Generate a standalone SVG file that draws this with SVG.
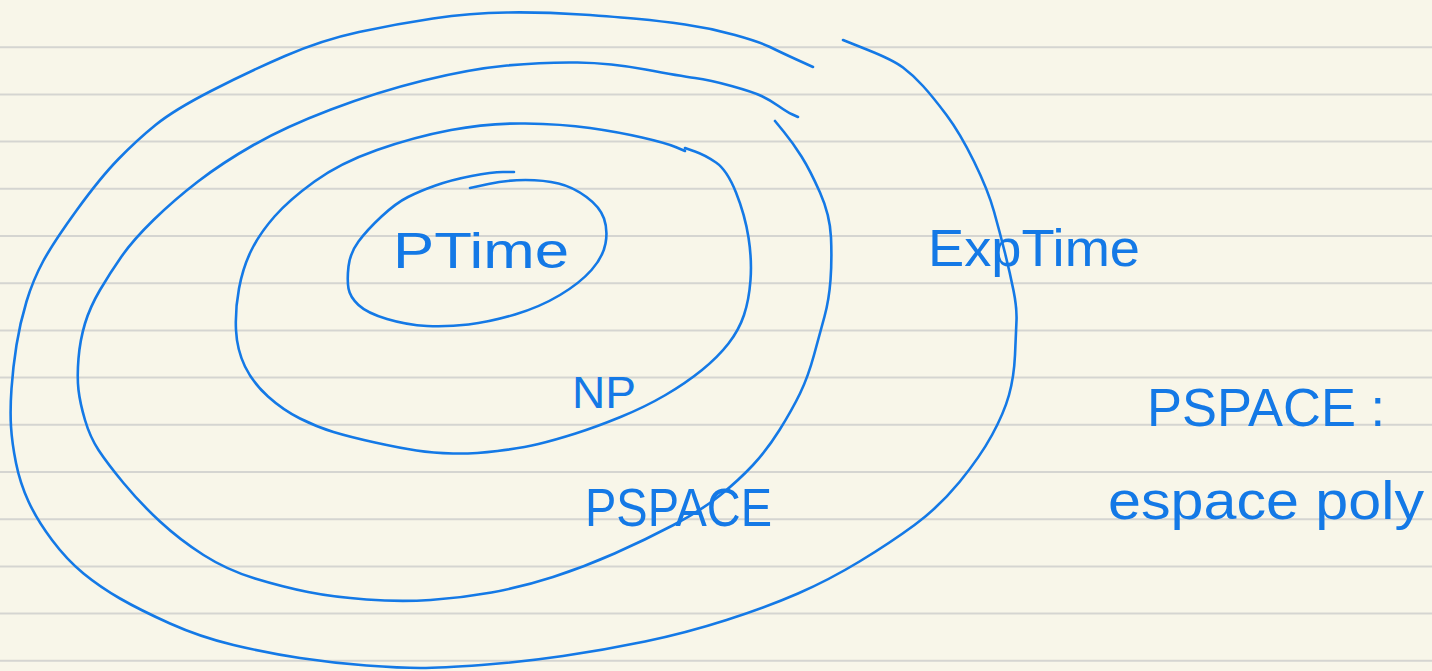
<svg xmlns="http://www.w3.org/2000/svg" width="1432" height="671" viewBox="0 0 1432 671">
<style>
.ring{fill:none;stroke:#1479e6;stroke-width:2.6;stroke-linecap:round;stroke-linejoin:round}
.rule{stroke:#d5d5d1;stroke-width:2}
.lbl{font-family:"Liberation Sans","DejaVu Sans",sans-serif;fill:#1479e6;font-weight:normal}
</style>
<rect width="1432" height="671" fill="#f8f6e9"/>
<g id="rules">
<line class="rule" x1="0" y1="47.2" x2="1432" y2="47.2"/>
<line class="rule" x1="0" y1="94.4" x2="1432" y2="94.4"/>
<line class="rule" x1="0" y1="141.6" x2="1432" y2="141.6"/>
<line class="rule" x1="0" y1="188.8" x2="1432" y2="188.8"/>
<line class="rule" x1="0" y1="236" x2="1432" y2="236"/>
<line class="rule" x1="0" y1="283.2" x2="1432" y2="283.2"/>
<line class="rule" x1="0" y1="330.4" x2="1432" y2="330.4"/>
<line class="rule" x1="0" y1="377.6" x2="1432" y2="377.6"/>
<line class="rule" x1="0" y1="424.8" x2="1432" y2="424.8"/>
<line class="rule" x1="0" y1="472" x2="1432" y2="472"/>
<line class="rule" x1="0" y1="519.2" x2="1432" y2="519.2"/>
<line class="rule" x1="0" y1="566.4" x2="1432" y2="566.4"/>
<line class="rule" x1="0" y1="613.6" x2="1432" y2="613.6"/>
<line class="rule" x1="0" y1="660.8" x2="1432" y2="660.8"/>
</g>
<g id="exptime">
<path class="ring" d="M813,67 L796.5,59.5 Q780,52 770,47 Q760,42 735,35 Q710,28 685,24.5 Q660,21 639,19 Q618,17 581,14.5 Q544,12 507,12.5 Q470,13 433,18.5 Q396,24 359,32 Q322,40 285,56 Q248,72 211,91 Q174,110 155.5,125 Q137,140 118.5,159 Q100,178 76.5,210.5 Q53,243 43,261.5 Q33,280 26.5,301.5 Q20,323 16.5,345 Q13,367 11.5,388.5 Q10,410 11,426.5 Q12,443 16,463 Q20,483 28.5,501.5 Q37,520 52,540 Q67,560 83.5,573.5 Q100,587 120,598.5 Q140,610 170,623.5 Q200,637 233.5,645 Q267,653 300,658 Q333,663 366.5,665.5 Q400,668 420.5,668 Q441,668 481.5,665 Q522,662 563,656 Q604,650 645,641.5 Q686,633 726.5,620 Q767,607 798,593.5 Q829,580 859.5,561.5 Q890,543 914.5,525 Q939,507 959.5,482 Q980,457 992,435 Q1004,413 1009,395 Q1014,377 1015,355 Q1016,333 1016.5,320.5 Q1017,308 1013.5,290.5 Q1010,273 1005,253 Q1000,233 994,211.5 Q988,190 974,161.5 Q960,133 946.5,115 Q933,97 923,86 Q913,75 903,67.5 Q893,60 868,50 L843,40"/>
<text class="lbl" x="928" y="266" font-size="52" textLength="212" lengthAdjust="spacingAndGlyphs">ExpTime</text>
</g>
<g id="pspace">
<path class="ring" d="M798,117 L792.5,114.5 Q787,112 778.5,106 Q770,100 761.5,96 Q753,92 731.5,86 Q710,80 695,78 Q680,76 645.5,69.5 Q611,63 577.5,62.5 Q544,62 507,65.5 Q470,69 423.5,80.5 Q377,92 331,109.5 Q285,127 253.5,145 Q222,163 198,181.5 Q174,200 153.5,220 Q133,240 121.5,256.5 Q110,273 100,290 Q90,307 85,323.5 Q80,340 78.5,358.5 Q77,377 78.5,390 Q80,403 85,420 Q90,437 98.5,450 Q107,463 123.5,483 Q140,503 160,521.5 Q180,540 203.5,555 Q227,570 255,578.5 Q283,587 308,592 Q333,597 366.5,599.5 Q400,602 430.5,600 Q461,598 491.5,592.5 Q522,587 553,577 Q584,567 614.5,553.5 Q645,540 673.5,525 Q702,510 720.5,495 Q739,480 753,465 Q767,450 779.5,430 Q792,410 800,393.5 Q808,377 814,355 Q820,333 824.5,316.5 Q829,300 830.5,280 Q832,260 831,237.5 Q830,215 820,192.5 Q810,170 801.5,156.5 Q793,143 784,132 L775,121"/>
<text class="lbl" x="585" y="526" font-size="54" textLength="187" lengthAdjust="spacingAndGlyphs">PSPACE</text>
</g>
<g id="np">
<path class="ring" d="M685,151 L675.5,147 Q666,143 642,137.5 Q618,132 590,128 Q562,124 525,123.5 Q488,123 451,130 Q414,137 377,150 Q340,163 314.5,181.5 Q289,200 274.5,216.5 Q260,233 251.5,250 Q243,267 239,288.5 Q235,310 236,330 Q237,350 245,366.5 Q253,383 268,396.5 Q283,410 300,418.5 Q317,427 333.5,432 Q350,437 375,442.5 Q400,448 416.5,450.5 Q433,453 453,453.5 Q473,454 497.5,451 Q522,448 538.5,444 Q555,440 575.5,433.5 Q596,427 620.5,417 Q645,407 665.5,395 Q686,383 702,370 Q718,357 728.5,343.5 Q739,330 744,315 Q749,300 750.5,280 Q752,260 748.5,237.5 Q745,215 736,192.5 Q727,170 716,162.5 Q705,155 695,151.5 L685,148"/>
<text class="lbl" x="572" y="408" font-size="44" textLength="64" lengthAdjust="spacingAndGlyphs">NP</text>
</g>
<g id="ptime">
<path class="ring" d="M514,172 L503,172 Q492,172 471.5,176 Q451,180 435.5,185.5 Q420,191 408,197 Q396,203 381.5,216.5 Q367,230 358.5,241.5 Q350,253 348.5,266.5 Q347,280 348.5,288.5 Q350,297 358.5,305 Q367,313 387,319 Q407,325 427,326 Q447,327 468.5,324.5 Q490,322 515,314.5 Q540,307 560,295 Q580,283 591.5,270 Q603,257 605.5,243.5 Q608,230 604,218.5 Q600,207 586.5,197 Q573,187 558.5,183.5 Q544,180 525.5,180 Q507,180 488.5,184 L470,188"/>
<text class="lbl" x="393" y="268" font-size="50" textLength="176" lengthAdjust="spacingAndGlyphs">PTime</text>
</g>
<g id="note">
<text class="lbl" x="1147" y="426" font-size="54" textLength="238" lengthAdjust="spacingAndGlyphs">PSPACE :</text>
<text class="lbl" x="1108" y="519" font-size="54" textLength="316" lengthAdjust="spacingAndGlyphs">espace poly</text>
</g>
</svg>
